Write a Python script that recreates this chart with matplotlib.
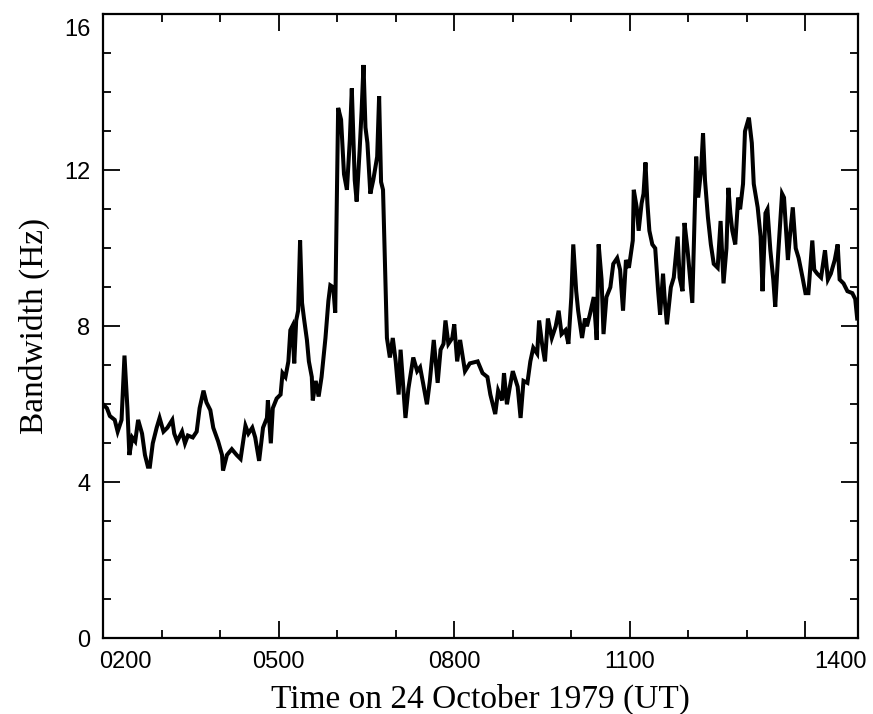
import matplotlib
matplotlib.use('Agg')
import matplotlib.pyplot as plt
from matplotlib.ticker import MultipleLocator, FixedLocator
from matplotlib.transforms import ScaledTranslation

# time in minutes after 0000 UT, bandwidth in Hz
time_min = [120, 124, 127, 132, 135, 139, 142, 145, 147, 150, 153, 156, 160, 163, 166, 168,
            171, 175, 178, 182, 186, 191, 193, 196, 201, 204, 207, 212, 216, 219, 223, 226,
            230, 233, 238, 242, 243, 247, 252, 257, 261, 266, 269, 273, 276, 280, 284, 288,
            289, 292, 294, 298, 302, 304, 307, 310, 312, 314, 316, 318, 320, 322, 324, 326,
            329, 331, 334, 335, 338, 341, 344, 348, 351, 353, 356, 358, 361, 364, 367, 370,
            373, 375, 378, 380, 383, 385, 387, 389, 391, 394, 397, 401, 403, 405, 407, 411,
            414, 417, 420, 423, 425, 428, 430, 433, 438, 442, 445, 448, 452, 455, 459, 463,
            466, 469, 471, 474, 478, 480, 483, 486, 491, 496, 504, 509, 514, 517, 522, 525,
            529, 531, 534, 537, 540, 545, 548, 551, 555, 558, 561, 565, 567, 570, 573, 576,
            580, 584, 587, 590, 594, 597, 600, 602, 605, 607, 611, 614, 616, 619, 623, 626,
            628, 631, 633, 636, 640, 643, 647, 650, 653, 656, 659, 663, 664, 667, 669, 672,
            674, 676, 678, 680, 683, 686, 689, 691, 694, 696, 698, 702, 705, 709, 711, 714,
            716, 719, 721, 724, 726, 728, 730, 733, 735, 737, 740, 743, 746, 750, 753, 756,
            759, 761, 763, 765, 768, 771, 773, 776, 778, 782, 785, 787, 791, 794, 796, 799,
            801, 804, 807, 809, 812, 816, 818, 822, 824, 827, 830, 833, 837, 840, 843, 847,
            849, 852, 856, 860, 863, 866, 870, 873, 875, 879, 883, 888, 891, 893]
bandwidth = [6.0, 5.9, 5.7, 5.6, 5.3, 5.6, 7.25, 5.9, 4.7, 5.15, 5.05, 5.6, 5.25, 4.7, 4.4, 4.4,
             5.0, 5.4, 5.65, 5.3, 5.4, 5.6, 5.25, 5.05, 5.3, 5.0, 5.2, 5.15, 5.3, 5.9, 6.35, 6.05,
             5.85, 5.4, 5.05, 4.7, 4.3, 4.7, 4.85, 4.7, 4.6, 5.45, 5.25, 5.4, 5.15, 4.55, 5.4, 5.65,
             6.1, 5.0, 5.9, 6.15, 6.25, 6.8, 6.7, 7.1, 7.9, 8.0, 7.05, 8.15, 8.4, 10.2, 8.6, 8.2,
             7.65, 7.1, 6.7, 6.1, 6.6, 6.2, 6.7, 7.7, 8.65, 9.05, 9.0, 8.35, 13.6, 13.3, 11.9, 11.5,
             12.8, 14.1, 11.75, 11.2, 12.5, 13.5, 14.7, 13.1, 12.7, 11.4, 11.75, 12.35, 13.9, 11.7, 11.5, 7.7,
             7.2, 7.7, 7.1, 6.25, 7.4, 6.35, 5.65, 6.4, 7.2, 6.85, 6.95, 6.55, 6.0, 6.6, 7.65, 6.55,
             7.4, 7.55, 8.15, 7.55, 7.7, 8.05, 7.1, 7.65, 6.85, 7.05, 7.1, 6.8, 6.7, 6.25, 5.75, 6.35,
             6.1, 6.8, 6.0, 6.45, 6.85, 6.45, 5.65, 6.6, 6.55, 7.1, 7.45, 7.3, 8.15, 7.55, 7.1, 8.2,
             7.7, 8.0, 8.4, 7.8, 7.9, 7.55, 8.75, 10.1, 8.9, 8.4, 7.7, 8.2, 8.0, 8.3, 8.75, 7.65,
             10.1, 9.2, 7.8, 8.75, 9.0, 9.6, 9.75, 9.45, 8.4, 9.7, 9.5, 10.2, 11.5, 11.05, 10.45, 11.15,
             11.4, 12.2, 11.15, 10.45, 10.1, 10.0, 8.9, 8.3, 9.35, 8.6, 8.05, 9.0, 9.25, 10.3, 9.25, 8.9,
             10.65, 10.0, 9.45, 8.6, 10.45, 12.35, 11.3, 12.0, 12.95, 11.75, 10.8, 10.1, 9.6, 9.5, 10.7, 9.1,
             10.0, 11.55, 10.9, 10.45, 10.1, 11.3, 11.0, 11.65, 13.0, 13.35, 12.7, 11.65, 11.05, 10.3, 8.9, 10.9,
             11.0, 9.95, 9.2, 8.5, 9.85, 11.4, 11.3, 9.7, 10.3, 11.05, 10.0, 9.75, 9.25, 8.85, 8.85, 10.2,
             9.45, 9.35, 9.25, 9.95, 9.2, 9.35, 9.7, 10.1, 9.2, 9.1, 8.9, 8.85, 8.7, 8.2]

tick_times = [120, 300, 480, 660, 840]
tick_labels = ['0200', '0500', '0800', '1100', '1400']
y_ticks = [0, 4, 8, 12, 16]

plt.rcParams['font.family'] = ['Liberation Serif', 'DejaVu Serif']

fig = plt.figure(figsize=(8.73, 7.14), dpi=100)
ax = fig.add_axes([0.118, 0.106, 0.865, 0.874])
ax.plot(time_min, bandwidth, color='black', lw=2.9, solid_joinstyle='miter')

ax.set_xlim(120, 894)
ax.set_ylim(0, 16)
ax.xaxis.set_major_locator(FixedLocator(tick_times))
ax.xaxis.set_minor_locator(MultipleLocator(60))
ax.set_xticklabels(tick_labels)
ax.set_yticks(y_ticks)
ax.yaxis.set_minor_locator(MultipleLocator(1))

ax.tick_params(which='both', direction='in', top=True, right=True, width=1.3, colors='black')
ax.tick_params(which='major', length=12, pad=9)
ax.tick_params(which='minor', length=6)
for lab in ax.get_xticklabels() + ax.get_yticklabels():
    lab.set_family(['Liberation Sans', 'DejaVu Sans'])
    lab.set_fontsize(17)
for s in ax.spines.values():
    s.set_linewidth(1.6)

# labels at the ends sit inward from their ticks in the original
xl = ax.get_xticklabels()
xl[0].set_transform(xl[0].get_transform() + ScaledTranslation(0.22, 0, fig.dpi_scale_trans))
xl[-1].set_transform(xl[-1].get_transform() + ScaledTranslation(0.35, 0, fig.dpi_scale_trans))
yl = ax.get_yticklabels()
yl[-1].set_transform(yl[-1].get_transform() + ScaledTranslation(0, -0.13, fig.dpi_scale_trans))

ax.set_xlabel('Time on 24 October 1979 (UT)', fontsize=24, labelpad=8)
ax.set_ylabel('Bandwidth (Hz)', fontsize=24, labelpad=10)

fig.savefig('out.png', dpi=100)
